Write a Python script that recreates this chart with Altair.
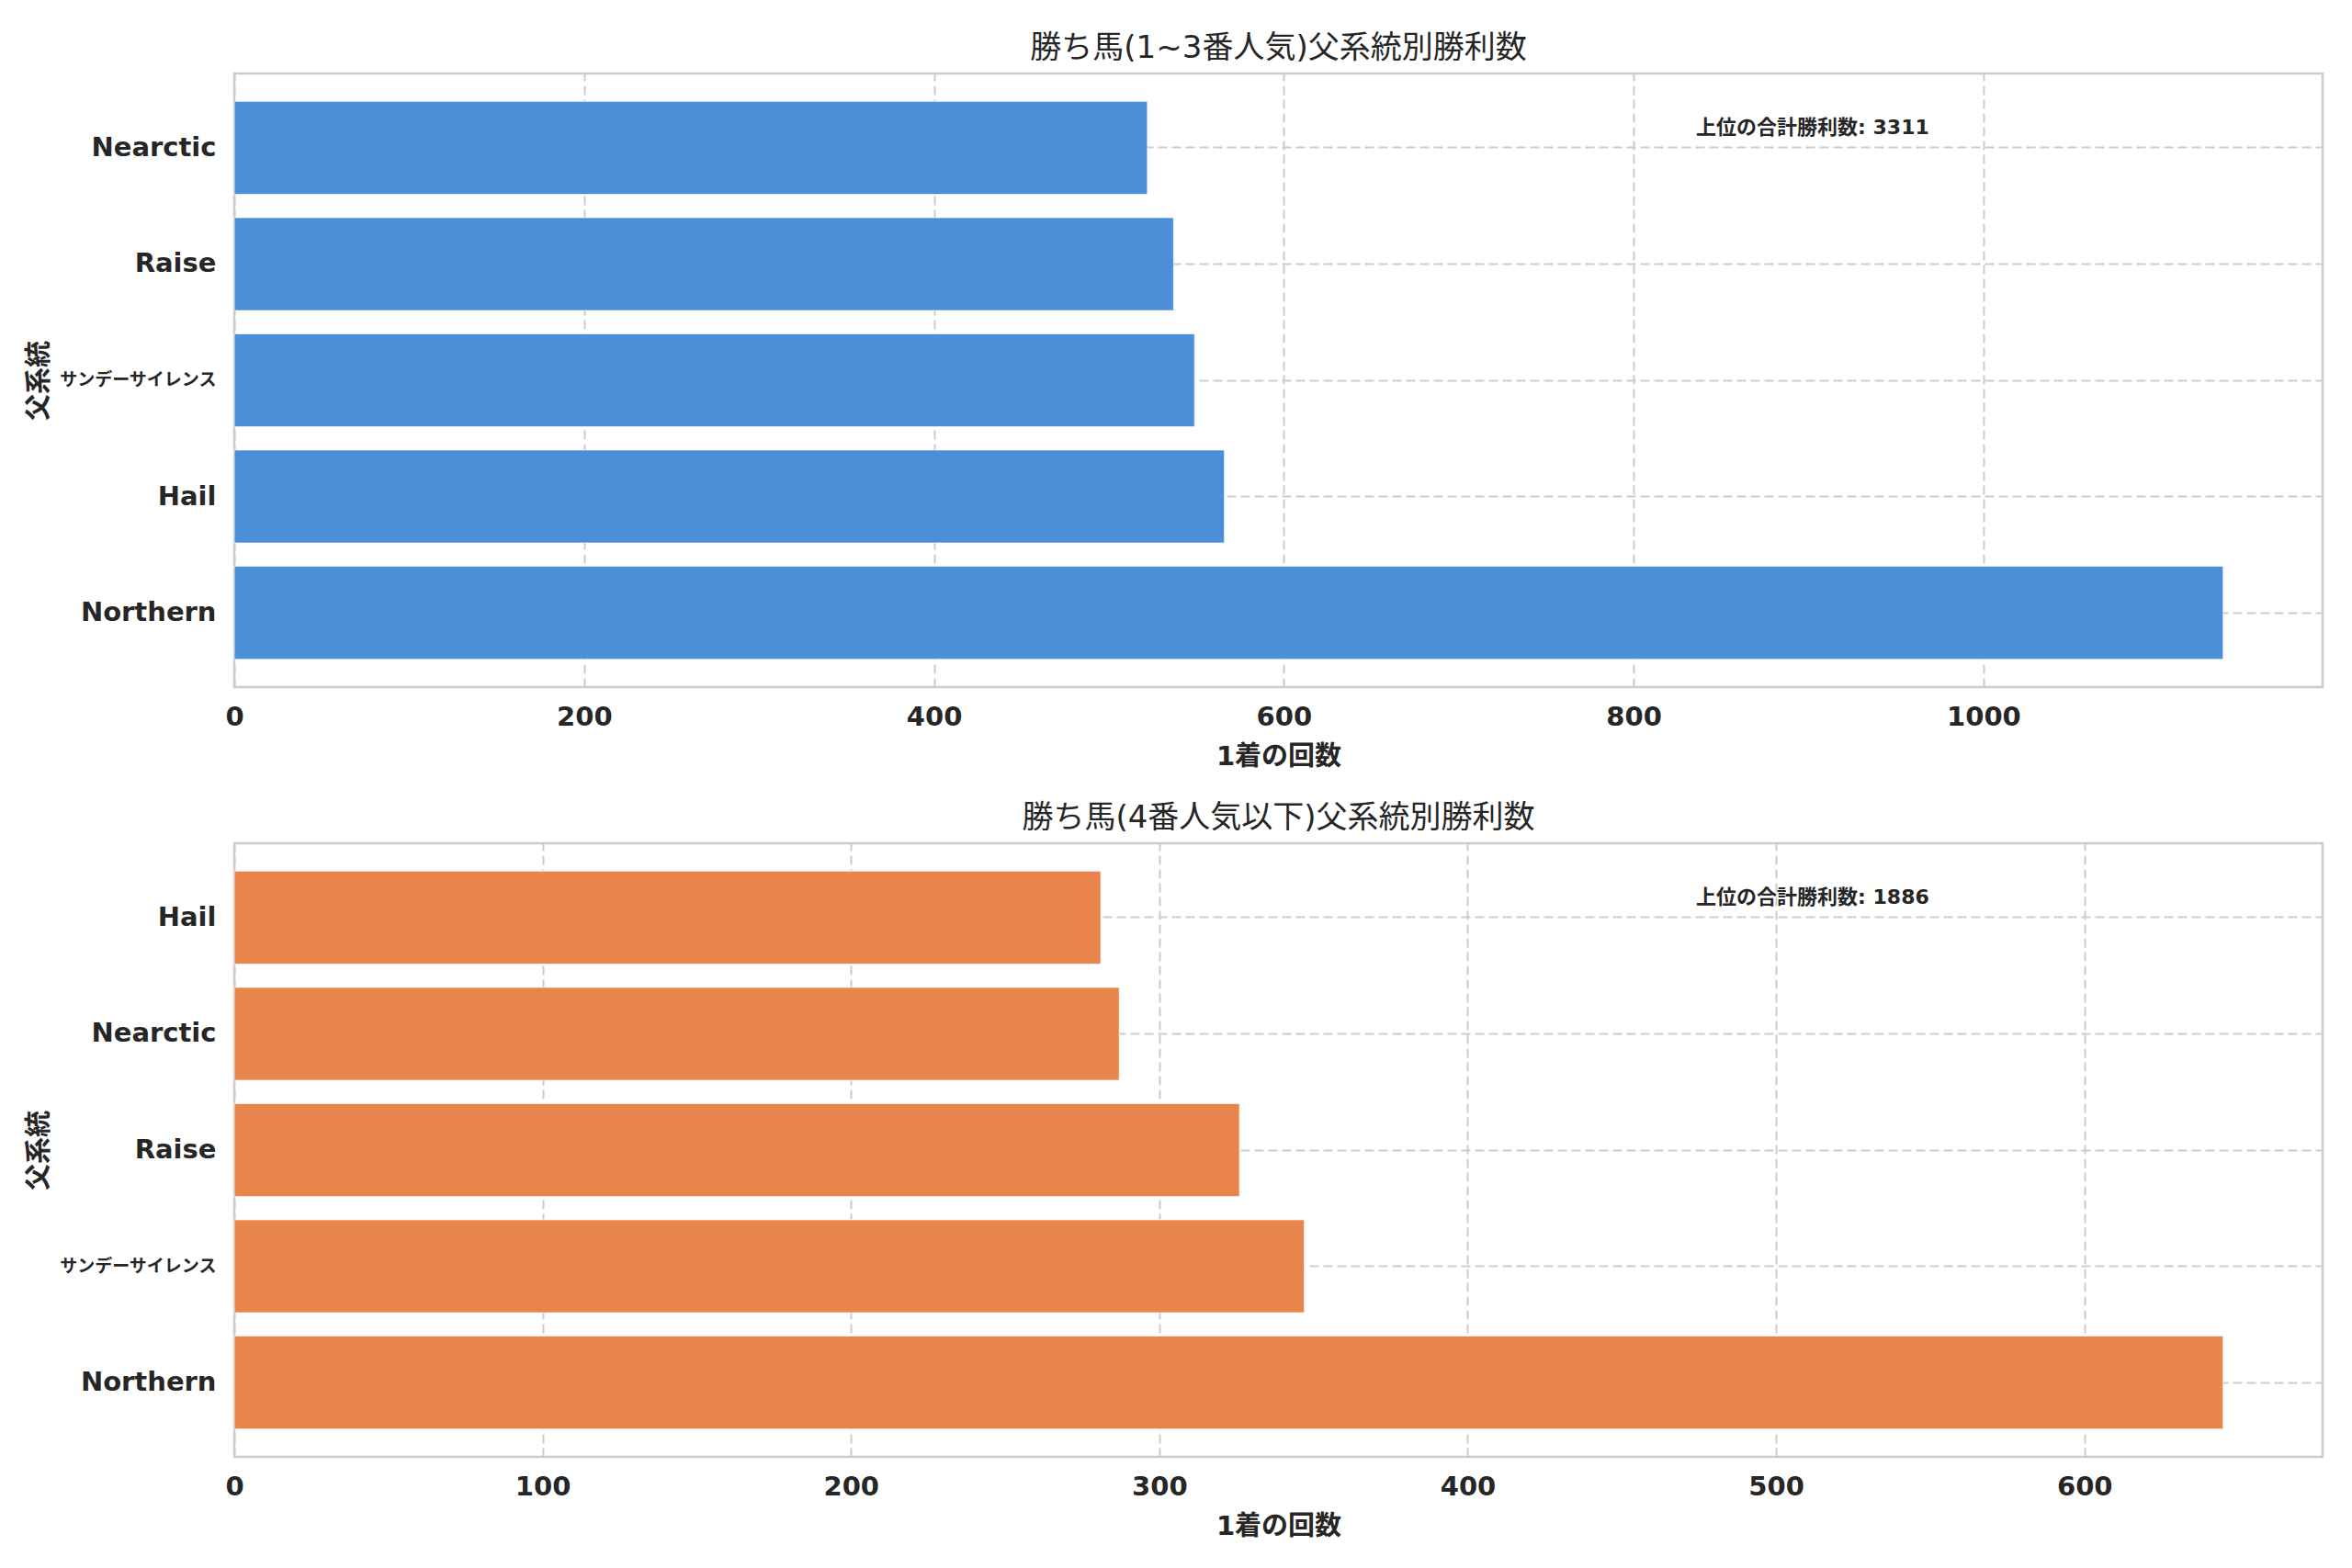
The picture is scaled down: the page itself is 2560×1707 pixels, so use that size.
import altair as alt
import pandas as pd

# ---- data ----
sires_top = ["Nearctic", "Raise", "サンデーサイレンス", "Hail", "Northern"]
wins_top = [522, 537, 549, 566, 1137]
sires_bottom = ["Hail", "Nearctic", "Raise", "サンデーサイレンス", "Northern"]
wins_bottom = [281, 287, 326, 347, 645]

title_top = "勝ち馬(1~3番人気)父系統別勝利数"
title_bottom = "勝ち馬(4番人気以下)父系統別勝利数"
x_title = "1着の回数"
y_title = "父系統"
note_label = "上位の合計勝利数"
ticks_top = [0, 200, 400, 600, 800, 1000]
ticks_bottom = [0, 100, 200, 300, 400, 500, 600]

BLUE = "#4A8FD8"
ORANGE = "#E8854C"
W, H = 2273, 668
FONT = "DejaVu Sans, Noto Sans CJK JP"
TXT = "#262626"


def panel(cats, vals, color, title, ticks):
    df = pd.DataFrame({"sire": cats, "wins": vals})
    xmax = max(vals) * 1.05
    bars = alt.Chart(df).mark_bar(color=color, stroke="white", strokeWidth=1.2, strokeOpacity=0.6).encode(
        x=alt.X("wins:Q",
                scale=alt.Scale(domain=[0, xmax], nice=False, zero=True),
                axis=alt.Axis(values=ticks, title=x_title, format="d", labelFlush=False)),
        y=alt.Y("sire:N", sort=cats,
                scale=alt.Scale(paddingInner=0.2, paddingOuter=0.24),
                axis=alt.Axis(title=y_title, bandPosition=0.5,
                              labelFontSize={"condition": {"test": "datum.value === 'サンデーサイレンス'", "value": 19},
                                             "value": 29})),
    )
    total = sum(vals)
    note_df = pd.DataFrame({"t": [f"{note_label}: {total}"]})
    note = alt.Chart(note_df).mark_text(
        align="left", baseline="middle", fontSize=22, fontWeight="bold", color=TXT, font=FONT
    ).encode(x=alt.value(0.70 * W), y=alt.value(0.088 * H), text="t:N")
    return alt.layer(bars, note).properties(
        width=W, height=H,
        title=alt.Title(title, fontSize=34, fontWeight="normal", color=TXT, font=FONT, offset=10),
    )


top = panel(sires_top, wins_top, BLUE, title_top, ticks_top)
bottom = panel(sires_bottom, wins_bottom, ORANGE, title_bottom, ticks_bottom)

chart = alt.vconcat(top, bottom, spacing=32).resolve_scale(
    x="independent", y="independent"
).properties(
    padding={"left": 19, "top": 26, "right": 5, "bottom": 5}
).configure_view(
    stroke="#cccccc", strokeWidth=2.5
).configure_axis(
    domain=False, ticks=False, tickSize=0,
    grid=True, gridColor="#cccccc", gridDash=[10, 5], gridWidth=2,
    labelFont=FONT, labelFontSize=29, labelFontWeight="bold", labelColor=TXT,
    titleFont=FONT, titleFontSize=29, titleFontWeight="bold", titleColor=TXT,
).configure_axisX(
    labelPadding=18, titlePadding=14
).configure_axisY(
    labelPadding=20, titlePadding=6
)

chart.save("out.html", embed_options={"renderer": "svg", "actions": False})
